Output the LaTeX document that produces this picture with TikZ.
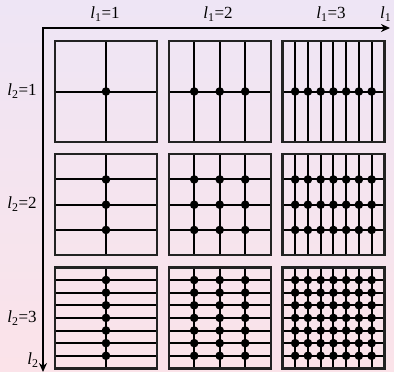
\documentclass[tikz,border=0pt]{standalone}
\usepackage{fontspec}
\setmainfont{Liberation Serif}
\usetikzlibrary{arrows.meta}

\definecolor{grillefondhaut}{HTML}{EEE5F5}
\definecolor{grillefondbas}{HTML}{FBE3E9}
\definecolor{grillebord}{HTML}{222222}

\newcommand{\niv}[2]{\textit{l}\textsubscript{#1}#2}

\begin{document}
\begin{tikzpicture}[x=1pt,y=-1pt,font=\fontsize{17}{19}\selectfont]
\shade[top color=grillefondhaut, bottom color=grillefondbas] (0,0) rectangle (394,372);
\useasboundingbox (0,0) rectangle (394,372);

% axes
\coordinate (origine) at (43,28);
\coordinate (finl1) at (390,28);
\coordinate (finl2) at (43,372);
\draw[line width=2.8pt, line cap=rect, -{Stealth[length=9pt,width=8pt]}] (origine) -- (finl1);
\draw[line width=2.8pt, line cap=rect, -{Stealth[length=9pt,width=8pt]}] (origine) -- (finl2);

% etiquettes
\foreach \k/\xk in {1/105, 2/218, 3/331}
  \node (tl1\k) at (\xk,14) {\niv{1}{=\k}};
\foreach \k/\yk in {1/91, 2/204, 3/318}
  \node (tl2\k) at (22,\yk) {\niv{2}{=\k}};
\node[anchor=west, inner sep=0pt] (axel1) at (380,14) {\niv{1}{}};
\node (axel2) at (33,360) {\niv{2}{}};

% grilles
\foreach \a in {1,2,3}{
  \foreach \b in {1,2,3}{
    \pgfmathsetmacro\xo{55+(\a-1)*113.7}
    \pgfmathsetmacro\yo{41+(\b-1)*113.2}
    \pgfmathtruncatemacro\na{2^\a}
    \pgfmathtruncatemacro\nb{2^\b}
    \pgfmathsetmacro\dx{102/\na}
    \pgfmathsetmacro\dy{101/\nb}
    \foreach \i in {1,...,\numexpr\na-1\relax}
      \draw[line width=2pt] (\xo+\i*\dx,\yo) -- (\xo+\i*\dx,\yo+101);
    \foreach \j in {1,...,\numexpr\nb-1\relax}
      \draw[line width=2pt] (\xo,\yo+\j*\dy) -- (\xo+102,\yo+\j*\dy);
    \foreach \i in {1,...,\numexpr\na-1\relax}
      \foreach \j in {1,...,\numexpr\nb-1\relax}
        \fill (\xo+\i*\dx,\yo+\j*\dy) circle (4.3pt);
    \draw[line width=2.2pt, draw=grillebord] (\xo,\yo) rectangle (\xo+102,\yo+101);
  }
}
\end{tikzpicture}
\end{document}
